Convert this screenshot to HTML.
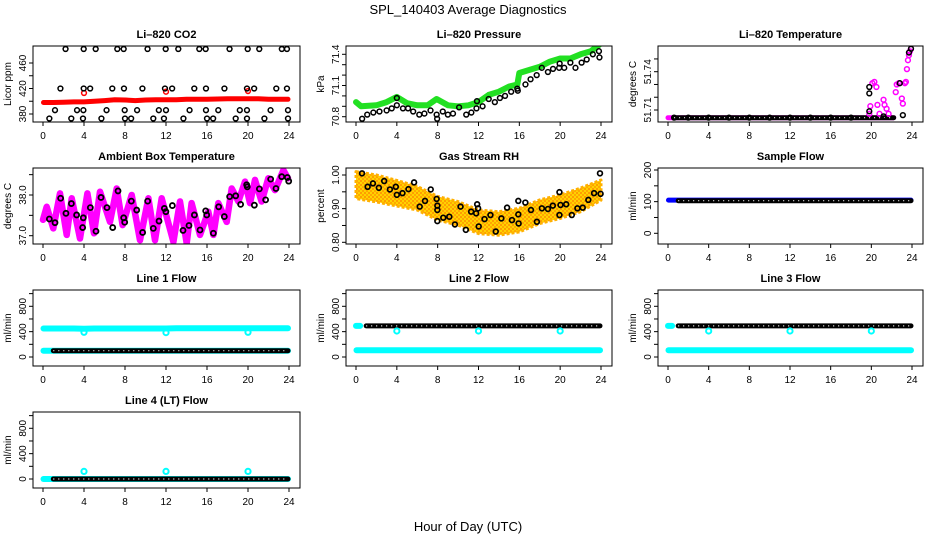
<!DOCTYPE html>
<html><head><meta charset="utf-8"><title>SPL_140403 Average Diagnostics</title>
<style>
html,body{margin:0;padding:0;background:#fff;}
svg{display:block;font-family:"Liberation Sans",Arial,sans-serif;}
</style></head>
<body>
<svg id="chart" width="936" height="540" viewBox="0 0 936 540" xmlns="http://www.w3.org/2000/svg">
<defs>
<pattern id="rhpat" width="4" height="4" patternUnits="userSpaceOnUse">
<rect width="4" height="4" fill="#ffd200"/>
<circle cx="1" cy="1" r="1" fill="#ff8c00"/>
<circle cx="3" cy="3" r="1" fill="#ff9a00"/>
</pattern>
</defs>
<rect x="0" y="0" width="936" height="540" fill="#fff"/>
<text x="468" y="14" text-anchor="middle" font-size="13">SPL_140403  Average Diagnostics</text>
<text x="468" y="531" text-anchor="middle" font-size="13">Hour of Day (UTC)</text>
</svg>
<script>
// ---------- data ----------
const xTicks = [0,4,8,12,16,20,24];
const hourly = [0.05,1,2,3,4,5,6,7,8,9,10,11,12,13,14,15,16,17,18,19,20,21,22,23,23.9];

// CO2
const co2RedVals = [398,398,398.5,399,399,400,401,402.5,402,401,402,402.5,402.5,402.5,403,403,403,403.5,404,404,404,404,403,403,403];
const co2OutHours = [4,12,20];
const co2OutVals = [413,415,416];
const co2BlkHours = [2.2,3.97,5.14,7.25,7.87,10.2,11.97,13.2,15.25,15.87,18.2,19.97,21.1,23.3,23.8,
 1.7,3.97,4.6,6.76,7.9,9.7,11.9,12.6,14.76,15.9,17.7,19.9,20.6,22.76,23.8,
 1.17,3.32,3.94,6.2,7.97,9.18,11.3,12.0,14.3,15.9,17.1,19.2,19.9,22.2,23.9,
 0.62,2.76,3.9,5.7,8.0,8.6,10.76,11.8,13.7,16.0,16.6,18.8,19.9,21.6,23.9];
const co2BlkVals = [482,482,482,482,482,482,482,482,482,482,482,482,482,482,482,
 420,420,420,420,420,420,420,420,420,420,420,420,420,420,420,
 386,386,386,386,386,386,386,386,386,386,386,386,386,386,386,
 373,373,373,373,373,373,373,373,373,373,373,373,373,373,373];

// Pressure
const prGreenHours = [0,0.5,2,3,4,5,6,7,7.9,9,10,11,12,13,14,15,15.8,16,17,18,19,20,21,22,23,23.8];
const prGreenVals = [70.94,70.90,70.91,70.94,70.99,70.93,70.91,70.91,70.97,70.91,70.90,70.91,70.94,71.01,71.04,71.09,71.11,71.22,71.25,71.28,71.33,71.36,71.36,71.40,71.43,71.49];
const prBlkHours = [0.6,1.1,1.7,2.3,3,3.5,4,4,4.6,5.1,5.6,6.2,6.7,7.3,7.9,7.95,8.5,9,9.5,10.1,10.8,11.3,11.8,11.85,12.4,13,13.6,14.1,14.6,15.2,15.8,15.85,16.6,17.1,17.7,18.2,18.8,19.3,19.9,19.95,20.4,21,21.5,22.1,22.6,23.2,23.8,23.85];
const prBlkVals = [70.78,70.82,70.84,70.85,70.86,70.88,70.91,70.98,70.88,70.88,70.85,70.82,70.83,70.86,70.82,70.78,70.85,70.82,70.83,70.89,70.82,70.84,70.88,70.95,70.90,70.97,70.94,70.98,71.0,71.04,71.07,71.05,71.11,71.16,71.2,71.27,71.23,71.26,71.27,71.31,71.27,71.32,71.27,71.32,71.35,71.4,71.43,71.37];

// Li-820 temperature
const tmBaseHours = [0,4,8,12,16,19.8,22.2];
const tmBaseVals = [51.704,51.704,51.704,51.704,51.704,51.704,51.704];
const tmMagHours = [19.8,19.9,20.1,20.3,20.5,20.6,20.8,21.2,21.3,21.5,21.7,22.4,22.5,22.7,23.0,23.1,23.3,23.4,23.5,23.6,23.7,23.8,23.9];
const tmMagVals = [51.707,51.713,51.731,51.732,51.728,51.714,51.707,51.718,51.714,51.711,51.707,51.724,51.730,51.731,51.719,51.715,51.731,51.732,51.742,51.749,51.753,51.756,51.758];
const tmBlkHours = [0.6,2,4,6,8,10,12,14,16,18,19.8,19.8,19.8,21.2,22.8,23.1,23.7,23.9];
const tmBlkVals = [51.704,51.704,51.704,51.704,51.704,51.704,51.704,51.704,51.704,51.704,51.728,51.723,51.709,51.705,51.731,51.706,51.755,51.758];

// Ambient box temperature
const amMagHours = [0,0.36,1.0,1.66,2.31,2.8,3.61,4.33,4.98,5.56,6.54,7.19,7.77,8.65,9.46,10.28,10.93,11.58,12.72,13.37,14.02,14.5,15.32,16.13,16.62,17.1,17.92,18.41,19.06,19.71,20.2,20.68,21.33,21.98,22.63,23.45,23.9];
const amMagVals = [37.39,37.71,37.18,38.04,37.02,37.92,36.93,38.04,37.06,38.08,37.34,38.16,37.26,38.0,36.89,37.92,36.89,37.92,36.85,37.84,36.81,37.8,37.02,37.59,37.02,37.8,37.34,38.16,37.84,38.33,37.8,38.37,37.84,38.41,38.12,38.61,38.41];
const amBlkHours = [0.62,1.17,1.72,2.24,2.77,3.28,3.93,3.87,4.62,5.17,5.66,6.24,6.8,7.32,7.87,7.97,8.62,9.14,9.72,10.21,10.76,11.32,11.84,11.99,12.62,13.66,14.24,14.77,15.32,15.87,15.97,16.62,17.14,17.69,18.21,18.8,19.28,19.87,19.93,20.62,21.11,21.72,22.21,22.73,23.29,23.84,23.97];
const amBlkVals = [37.41,37.32,37.92,37.55,37.79,37.51,37.44,37.2,37.69,37.11,37.94,37.69,37.2,38.1,37.44,37.33,37.85,37.63,37.08,37.85,37.18,37.36,37.67,37.59,37.74,37.13,37.25,37.51,37.14,37.61,37.51,37.06,37.71,37.47,37.96,37.98,37.77,38.25,38.2,37.75,38.15,37.88,38.39,38.16,38.45,38.43,38.34];

// Gas stream RH
const rhHours = [0,2,4,6,8,10,12,14,16,18,20,22,24];
const rhMid = [0.970,0.960,0.946,0.931,0.901,0.886,0.861,0.856,0.866,0.891,0.906,0.926,0.955];
const rhSpread = [0.04,0.04,0.038,0.035,0.035,0.035,0.035,0.035,0.035,0.035,0.035,0.035,0.03];
const rhBlkHours = [0.59,1.14,1.66,2.24,2.76,3.32,3.9,4.0,4.55,5.14,5.69,6.24,6.76,7.32,7.9,7.97,7.97,7.97,8.55,9.14,9.69,10.24,10.76,11.28,11.77,11.87,11.96,12.02,12.59,13.17,13.69,14.24,14.8,15.28,15.9,15.9,15.93,16.59,17.14,17.72,18.21,18.8,19.28,19.93,19.93,20.03,20.59,21.14,21.69,22.21,22.76,23.32,23.9,23.96];
const rhBlkVals = [1.005,0.965,0.975,0.962,0.982,0.957,0.965,0.941,0.946,0.958,0.978,0.906,0.923,0.957,0.929,0.909,0.896,0.863,0.873,0.876,0.853,0.906,0.837,0.891,0.886,0.913,0.901,0.847,0.869,0.881,0.832,0.871,0.903,0.866,0.923,0.883,0.856,0.918,0.896,0.861,0.901,0.899,0.909,0.881,0.949,0.911,0.913,0.881,0.901,0.903,0.926,0.946,1.005,0.944];

// Sample flow
const sfBlue = [105,105,105,105,105,105,105,105,105,105,105,105,105,105,105,105,105,105,105,105,105,105,105,105,105];
const sfBlack = [null,103,103,103,103,103,103,103,103,103,103,103,103,103,103,103,103,103,103,103,103,103,103,103,103];

// Line flows
const l1Cyan = [450,450,450,450,445,450,450,450,450,450,450,450,450,455,455,455,455,455,455,455,455,455,455,455,455];
const l1Black = [null,100,100,100,100,100,100,100,100,100,100,100,100,100,100,100,100,100,100,100,100,100,100,100,100];
const l1CyanLow = [100,100,100,100,100,100,100,100,100,100,100,100,100,100,100,100,100,100,100,100,100,100,100,100,100];
const l1DipVals = [390,385,390];
const dipHours = [4,12,20];
const l2Black = [null,490,490,490,490,490,490,490,490,490,490,490,490,490,490,490,490,490,490,490,490,490,490,490,490];
const l2Cyan = [105,105,105,105,105,105,105,105,105,105,105,105,105,105,105,105,105,105,105,105,105,105,105,105,105];
const l2DipVals = [410,410,410];
const l3Black = [null,490,490,490,490,490,490,490,490,490,490,490,490,490,490,490,490,490,490,490,490,490,490,490,490];
const l3Cyan = [105,105,105,105,105,105,105,105,105,105,105,105,105,105,105,105,105,105,105,105,105,105,105,105,105];
const l3DipVals = [410,410,410];
const l4Black = [null,0,0,0,0,0,0,0,0,0,0,0,0,0,0,0,0,0,0,0,0,0,0,0,0];
const l4Cyan = [0,0,0,0,0,0,0,0,0,0,0,0,0,0,0,0,0,0,0,0,0,0,0,0,0];
const l4SpikeVals = [120,120,120];

// ---------- drawing ----------
const NS = 'http://www.w3.org/2000/svg';
const svg = document.getElementById('chart');
const colL = [33,346,658], colR = [300,612,923], rowT = [46,168,290,412], BH = 76;

function el(tag, attrs, parent){
  const e = document.createElementNS(NS, tag);
  for (const k in attrs) e.setAttribute(k, attrs[k]);
  parent.appendChild(e);
  return e;
}

function panel(c, r, name, title, ylab, yv1, yp1, yv2, yp2, yTicks, yLabels){
  const L = colL[c], R = colR[c], T = rowT[r], B = T + BH;
  const g = el('g', {}, svg);
  
  
  const X = h => L + 10 + h * (R - L - 21) / 24;
  const Y = v => T + yp1 + (v - yv1) * (yp2 - yp1) / (yv2 - yv1);
  const t = el('text', {x:(L+R)/2, y:T-8, 'text-anchor':'middle', 'font-size':11, 'font-weight':'bold'}, g);
  t.textContent = title;
  
  
  const yl = el('text', {x:L-22, y:(T+B)/2, 'text-anchor':'middle', 'font-size':10, transform:`rotate(-90 ${L-22} ${(T+B)/2})`}, g);
  yl.textContent = ylab;
  
  
  const plot = el('g', {}, g);
  
  
  const clipId = 'clip-' + name;
  const cp = el('clipPath', {id: clipId}, g);
  el('rect', {x:L, y:T, width:R-L, height:BH}, cp);
  plot.setAttribute('clip-path', `url(#${clipId})`);
  const box = el('rect', {x:L, y:T, width:R-L, height:BH, fill:'none', stroke:'#000', 'stroke-width':1}, g);
  
  
  xTicks.forEach(h => {
    const x = X(h);
    const tk = el('line', {x1:x, y1:B, x2:x, y2:B+4, stroke:'#000'}, g);
    
    
    const lb = el('text', {x:x, y:B+17, 'text-anchor':'middle', 'font-size':10}, g);
    lb.textContent = h;
    
    
  });
  yTicks.forEach((v, i) => {
    const y = Y(v);
    const tk = el('line', {x1:L-4, y1:y, x2:L, y2:y, stroke:'#000'}, g);
    
    
    if (yLabels[i] !== '') {
      const lb = el('text', {x:L-7, y:y, 'text-anchor':'middle', 'font-size':10, transform:`rotate(-90 ${L-7} ${y})`}, g);
      lb.textContent = yLabels[i];
      
      
    }
  });
  return {X, Y, g: plot};
}

function band(p, hours, vals, color, width, nm){
  const pts = [];
  hours.forEach((h, i) => { if (vals[i] !== null) pts.push(p.X(h).toFixed(1) + ',' + p.Y(vals[i]).toFixed(1)); });
  const pl = el('polyline', {points: pts.join(' '), fill:'none', stroke:color, 'stroke-width':width, 'stroke-linejoin':'round', 'stroke-linecap':'round'}, p.g);
  
  
  return pl;
}

function dotted(p, hours, vals, nm){
  band(p, hours, vals, '#000', 5, nm);
  const pts = [];
  hours.forEach((h, i) => { if (vals[i] !== null) pts.push(p.X(h).toFixed(1) + ',' + p.Y(vals[i]).toFixed(1)); });
  const w = el('polyline', {points: pts.join(' '), fill:'none', stroke:'#fff', 'stroke-width':1.2, 'stroke-dasharray':'1 4'}, p.g);
  
  
}

function pts(p, hours, vals, color, nm, r, sw){
  hours.forEach((h, i) => {
    const c = el('circle', {cx:p.X(h), cy:p.Y(vals[i]), r:r||2.4, fill:'none', stroke:color, 'stroke-width':sw||1.5}, p.g);
    
    
  });
}

// CO2
const p1 = panel(0,0,'co2','Li\u2013820 CO2','Licor ppm',380,68,460,17,[380,400,420,440,460],['380','','420','','460']);
band(p1, hourly, co2RedVals, '#ff0000', 5, 'co2-red-series');
pts(p1, co2OutHours, co2OutVals, '#ff0000', 'co2-red-outlier');
pts(p1, co2BlkHours, co2BlkVals, '#000', 'co2-hourly-point');

// Pressure
const p2 = panel(1,0,'pressure','Li\u2013820 Pressure','kPa',70.8,70.7,71.4,8.3,[70.8,70.9,71.0,71.1,71.2,71.3,71.4],['70.8','','','71.1','','','71.4']);
band(p2, prGreenHours, prGreenVals, '#22e022', 6, 'pressure-green-series');
pts(p2, prBlkHours, prBlkVals, '#000', 'pressure-hourly-point');

// Li-820 temperature
const p3 = panel(2,0,'li820-temp','Li\u2013820 Temperature','degrees C',51.71,64,51.74,25.7,[51.71,51.72,51.73,51.74,51.75],['51.71','','','51.74','']);
band(p3, tmBaseHours, tmBaseVals, '#ff00ff', 5, 'li820-temp-magenta-series');
dotted(p3, [0.6,22.2], [51.704,51.704], 'li820-temp-black-series');
pts(p3, tmMagHours, tmMagVals, '#ff00ff', 'li820-temp-magenta-point');
pts(p3, tmBlkHours, tmBlkVals, '#000', 'li820-temp-hourly-point');

// Ambient box temp
const p4 = panel(0,1,'ambient-temp','Ambient Box Temperature','degrees C',37.0,67.7,38.0,27,[37.0,37.5,38.0,38.5],['37.0','','38.0','']);
band(p4, amMagHours, amMagVals, '#ff00ff', 6.5, 'ambient-magenta-series');
pts(p4, amBlkHours, amBlkVals, '#000', 'ambient-hourly-point', 2.5, 1.8);

// RH
const p5 = panel(1,1,'rh','Gas Stream RH','percent',0.80,74.3,1.00,7,[0.80,0.85,0.90,0.95,1.00],['0.80','','0.90','','1.00']);
(function(){
  const up = [], dn = [];
  rhHours.forEach((h, i) => {
    up.push(p5.X(h).toFixed(1) + ',' + p5.Y(rhMid[i] + rhSpread[i]).toFixed(1));
    dn.unshift(p5.X(h).toFixed(1) + ',' + p5.Y(rhMid[i] - rhSpread[i]).toFixed(1));
  });
  const poly = el('polygon', {points: up.concat(dn).join(' '), fill:'url(#rhpat)', stroke:'#ffb000', 'stroke-width':3, 'stroke-linejoin':'round', 'stroke-dasharray':'3 2'}, p5.g);
  
  
})();
pts(p5, rhBlkHours, rhBlkVals, '#000', 'rh-hourly-point', 2.4, 1.7);

// Sample flow
const p6 = panel(2,1,'sample-flow','Sample Flow','ml/min',0,65.3,200,2,[0,50,100,150,200],['0','','100','','200']);
band(p6, hourly, sfBlue, '#0000ff', 5, 'sample-flow-blue-series');
dotted(p6, hourly, sfBlack, 'sample-flow-black-series');

// Line flows
const flowTicks = [0,200,400,600,800,1000], flowLabels = ['0','','400','','800',''];
const p7 = panel(0,2,'line1-flow','Line 1 Flow','ml/min',0,67,800,16.3,flowTicks,flowLabels);
band(p7, hourly, l1Cyan, '#00ffff', 6, 'line1-cyan-high-series');
band(p7, hourly, l1CyanLow, '#00ffff', 6, 'line1-cyan-low-series');
dotted(p7, hourly, l1Black, 'line1-black-series');
pts(p7, dipHours, l1DipVals, '#00ffff', 'line1-cyan-dip', 2.6, 2);

const p8 = panel(1,2,'line2-flow','Line 2 Flow','ml/min',0,67,800,16.3,flowTicks,flowLabels);
band(p8, [0,0.4], [490,490], '#00ffff', 6, 'line2-cyan-start');
band(p8, hourly, l2Cyan, '#00ffff', 6, 'line2-cyan-series');
dotted(p8, hourly, l2Black, 'line2-black-series');
pts(p8, dipHours, l2DipVals, '#00ffff', 'line2-cyan-dip', 2.6, 2);

const p9 = panel(2,2,'line3-flow','Line 3 Flow','ml/min',0,67,800,16.3,flowTicks,flowLabels);
band(p9, [0,0.4], [490,490], '#00ffff', 6, 'line3-cyan-start');
band(p9, hourly, l3Cyan, '#00ffff', 6, 'line3-cyan-series');
dotted(p9, hourly, l3Black, 'line3-black-series');
pts(p9, dipHours, l3DipVals, '#00ffff', 'line3-cyan-dip', 2.6, 2);

const p10 = panel(0,3,'line4-flow','Line 4 (LT) Flow','ml/min',0,67,800,16.3,flowTicks,flowLabels);
band(p10, hourly, l4Cyan, '#00ffff', 6, 'line4-cyan-series');
dotted(p10, hourly, l4Black, 'line4-black-series');
pts(p10, dipHours, l4SpikeVals, '#00ffff', 'line4-cyan-spike', 2.6, 2);
</script>
</body></html>
